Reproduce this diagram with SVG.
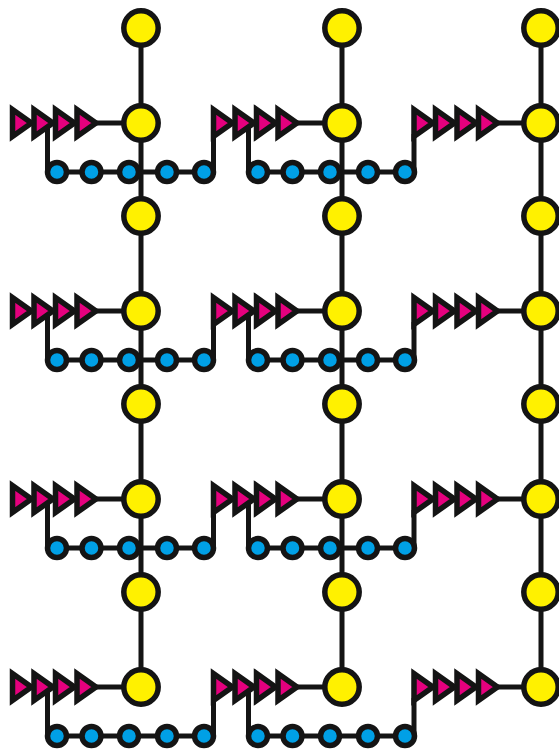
<svg xmlns="http://www.w3.org/2000/svg" xmlns:xlink="http://www.w3.org/1999/xlink" width="559" height="752" viewBox="0 0 559 752">
<style>
.e{fill:none;stroke:#141414;stroke-width:5;stroke-linejoin:miter}
.y{fill:#fff100;stroke:#141414;stroke-width:5.5}
.b{fill:#00a0e6;stroke:#141414;stroke-width:5.5}
.t{fill:#e5007e;stroke:#141414;stroke-width:5.5;stroke-linejoin:miter;stroke-miterlimit:10}
</style>
<defs>
<polygon id="tri" points="0,-13.5 0,13.5 19,0"/>
</defs>
<rect width="559" height="752" fill="#ffffff"/>
<g id="connectors">
<path class="e" d="M141 28V687M342 28V687M541 28V687"/>
<path class="e" d="M96 123H124M297 123H325M497 123H524M96 311H124M297 311H325M497 311H524M96 499H124M297 499H325M497 499H524M96 687H124M297 687H325M497 687H524"/>
<path class="e" d="M47.5 123V172H213.5V134"/>
<path class="e" d="M248.5 123V172H414V134"/>
<path class="e" d="M47.5 311V360H213.5V322"/>
<path class="e" d="M248.5 311V360H414V322"/>
<path class="e" d="M47.5 499V548H213.5V510"/>
<path class="e" d="M248.5 499V548H414V510"/>
<path class="e" d="M47.5 687V736H213.5V698"/>
<path class="e" d="M248.5 687V736H414V698"/>
</g>
<g id="y-0-0-u"><circle class="y" cx="141" cy="28" r="17.2"/></g>
<g id="y-0-1-u"><circle class="y" cx="342" cy="28" r="17.2"/></g>
<g id="y-0-2-u"><circle class="y" cx="541" cy="28" r="17.2"/></g>
<g id="y-0-0"><circle class="y" cx="141" cy="123" r="17.2"/></g>
<g id="y-0-1"><circle class="y" cx="342" cy="123" r="17.2"/></g>
<g id="y-0-2"><circle class="y" cx="541" cy="123" r="17.2"/></g>
<g id="t-0-0-1"><use class="t" href="#tri" x="12.5" y="123"/></g>
<g id="t-0-0-2"><use class="t" href="#tri" x="34" y="123"/></g>
<g id="t-0-0-3"><use class="t" href="#tri" x="55.5" y="123"/></g>
<g id="t-0-0-4"><use class="t" href="#tri" x="77" y="123"/></g>
<g id="t-0-1-1"><use class="t" href="#tri" x="213.5" y="123"/></g>
<g id="t-0-1-2"><use class="t" href="#tri" x="235" y="123"/></g>
<g id="t-0-1-3"><use class="t" href="#tri" x="256.5" y="123"/></g>
<g id="t-0-1-4"><use class="t" href="#tri" x="278" y="123"/></g>
<g id="t-0-2-1"><use class="t" href="#tri" x="414" y="123"/></g>
<g id="t-0-2-2"><use class="t" href="#tri" x="435.5" y="123"/></g>
<g id="t-0-2-3"><use class="t" href="#tri" x="457" y="123"/></g>
<g id="t-0-2-4"><use class="t" href="#tri" x="478.5" y="123"/></g>
<g id="b-0-0-1"><circle class="b" cx="57" cy="172" r="9.5"/></g>
<g id="b-0-0-2"><circle class="b" cx="91.5" cy="172" r="9.5"/></g>
<g id="b-0-0-3"><circle class="b" cx="129" cy="172" r="9.5"/></g>
<g id="b-0-0-4"><circle class="b" cx="167" cy="172" r="9.5"/></g>
<g id="b-0-0-5"><circle class="b" cx="204" cy="172" r="9.5"/></g>
<g id="b-0-1-1"><circle class="b" cx="258" cy="172" r="9.5"/></g>
<g id="b-0-1-2"><circle class="b" cx="292.5" cy="172" r="9.5"/></g>
<g id="b-0-1-3"><circle class="b" cx="330" cy="172" r="9.5"/></g>
<g id="b-0-1-4"><circle class="b" cx="368" cy="172" r="9.5"/></g>
<g id="b-0-1-5"><circle class="b" cx="405" cy="172" r="9.5"/></g>
<g id="y-1-0-u"><circle class="y" cx="141" cy="216" r="17.2"/></g>
<g id="y-1-1-u"><circle class="y" cx="342" cy="216" r="17.2"/></g>
<g id="y-1-2-u"><circle class="y" cx="541" cy="216" r="17.2"/></g>
<g id="y-1-0"><circle class="y" cx="141" cy="311" r="17.2"/></g>
<g id="y-1-1"><circle class="y" cx="342" cy="311" r="17.2"/></g>
<g id="y-1-2"><circle class="y" cx="541" cy="311" r="17.2"/></g>
<g id="t-1-0-1"><use class="t" href="#tri" x="12.5" y="311"/></g>
<g id="t-1-0-2"><use class="t" href="#tri" x="34" y="311"/></g>
<g id="t-1-0-3"><use class="t" href="#tri" x="55.5" y="311"/></g>
<g id="t-1-0-4"><use class="t" href="#tri" x="77" y="311"/></g>
<g id="t-1-1-1"><use class="t" href="#tri" x="213.5" y="311"/></g>
<g id="t-1-1-2"><use class="t" href="#tri" x="235" y="311"/></g>
<g id="t-1-1-3"><use class="t" href="#tri" x="256.5" y="311"/></g>
<g id="t-1-1-4"><use class="t" href="#tri" x="278" y="311"/></g>
<g id="t-1-2-1"><use class="t" href="#tri" x="414" y="311"/></g>
<g id="t-1-2-2"><use class="t" href="#tri" x="435.5" y="311"/></g>
<g id="t-1-2-3"><use class="t" href="#tri" x="457" y="311"/></g>
<g id="t-1-2-4"><use class="t" href="#tri" x="478.5" y="311"/></g>
<g id="b-1-0-1"><circle class="b" cx="57" cy="360" r="9.5"/></g>
<g id="b-1-0-2"><circle class="b" cx="91.5" cy="360" r="9.5"/></g>
<g id="b-1-0-3"><circle class="b" cx="129" cy="360" r="9.5"/></g>
<g id="b-1-0-4"><circle class="b" cx="167" cy="360" r="9.5"/></g>
<g id="b-1-0-5"><circle class="b" cx="204" cy="360" r="9.5"/></g>
<g id="b-1-1-1"><circle class="b" cx="258" cy="360" r="9.5"/></g>
<g id="b-1-1-2"><circle class="b" cx="292.5" cy="360" r="9.5"/></g>
<g id="b-1-1-3"><circle class="b" cx="330" cy="360" r="9.5"/></g>
<g id="b-1-1-4"><circle class="b" cx="368" cy="360" r="9.5"/></g>
<g id="b-1-1-5"><circle class="b" cx="405" cy="360" r="9.5"/></g>
<g id="y-2-0-u"><circle class="y" cx="141" cy="404" r="17.2"/></g>
<g id="y-2-1-u"><circle class="y" cx="342" cy="404" r="17.2"/></g>
<g id="y-2-2-u"><circle class="y" cx="541" cy="404" r="17.2"/></g>
<g id="y-2-0"><circle class="y" cx="141" cy="499" r="17.2"/></g>
<g id="y-2-1"><circle class="y" cx="342" cy="499" r="17.2"/></g>
<g id="y-2-2"><circle class="y" cx="541" cy="499" r="17.2"/></g>
<g id="t-2-0-1"><use class="t" href="#tri" x="12.5" y="499"/></g>
<g id="t-2-0-2"><use class="t" href="#tri" x="34" y="499"/></g>
<g id="t-2-0-3"><use class="t" href="#tri" x="55.5" y="499"/></g>
<g id="t-2-0-4"><use class="t" href="#tri" x="77" y="499"/></g>
<g id="t-2-1-1"><use class="t" href="#tri" x="213.5" y="499"/></g>
<g id="t-2-1-2"><use class="t" href="#tri" x="235" y="499"/></g>
<g id="t-2-1-3"><use class="t" href="#tri" x="256.5" y="499"/></g>
<g id="t-2-1-4"><use class="t" href="#tri" x="278" y="499"/></g>
<g id="t-2-2-1"><use class="t" href="#tri" x="414" y="499"/></g>
<g id="t-2-2-2"><use class="t" href="#tri" x="435.5" y="499"/></g>
<g id="t-2-2-3"><use class="t" href="#tri" x="457" y="499"/></g>
<g id="t-2-2-4"><use class="t" href="#tri" x="478.5" y="499"/></g>
<g id="b-2-0-1"><circle class="b" cx="57" cy="548" r="9.5"/></g>
<g id="b-2-0-2"><circle class="b" cx="91.5" cy="548" r="9.5"/></g>
<g id="b-2-0-3"><circle class="b" cx="129" cy="548" r="9.5"/></g>
<g id="b-2-0-4"><circle class="b" cx="167" cy="548" r="9.5"/></g>
<g id="b-2-0-5"><circle class="b" cx="204" cy="548" r="9.5"/></g>
<g id="b-2-1-1"><circle class="b" cx="258" cy="548" r="9.5"/></g>
<g id="b-2-1-2"><circle class="b" cx="292.5" cy="548" r="9.5"/></g>
<g id="b-2-1-3"><circle class="b" cx="330" cy="548" r="9.5"/></g>
<g id="b-2-1-4"><circle class="b" cx="368" cy="548" r="9.5"/></g>
<g id="b-2-1-5"><circle class="b" cx="405" cy="548" r="9.5"/></g>
<g id="y-3-0-u"><circle class="y" cx="141" cy="592" r="17.2"/></g>
<g id="y-3-1-u"><circle class="y" cx="342" cy="592" r="17.2"/></g>
<g id="y-3-2-u"><circle class="y" cx="541" cy="592" r="17.2"/></g>
<g id="y-3-0"><circle class="y" cx="141" cy="687" r="17.2"/></g>
<g id="y-3-1"><circle class="y" cx="342" cy="687" r="17.2"/></g>
<g id="y-3-2"><circle class="y" cx="541" cy="687" r="17.2"/></g>
<g id="t-3-0-1"><use class="t" href="#tri" x="12.5" y="687"/></g>
<g id="t-3-0-2"><use class="t" href="#tri" x="34" y="687"/></g>
<g id="t-3-0-3"><use class="t" href="#tri" x="55.5" y="687"/></g>
<g id="t-3-0-4"><use class="t" href="#tri" x="77" y="687"/></g>
<g id="t-3-1-1"><use class="t" href="#tri" x="213.5" y="687"/></g>
<g id="t-3-1-2"><use class="t" href="#tri" x="235" y="687"/></g>
<g id="t-3-1-3"><use class="t" href="#tri" x="256.5" y="687"/></g>
<g id="t-3-1-4"><use class="t" href="#tri" x="278" y="687"/></g>
<g id="t-3-2-1"><use class="t" href="#tri" x="414" y="687"/></g>
<g id="t-3-2-2"><use class="t" href="#tri" x="435.5" y="687"/></g>
<g id="t-3-2-3"><use class="t" href="#tri" x="457" y="687"/></g>
<g id="t-3-2-4"><use class="t" href="#tri" x="478.5" y="687"/></g>
<g id="b-3-0-1"><circle class="b" cx="57" cy="736" r="9.5"/></g>
<g id="b-3-0-2"><circle class="b" cx="91.5" cy="736" r="9.5"/></g>
<g id="b-3-0-3"><circle class="b" cx="129" cy="736" r="9.5"/></g>
<g id="b-3-0-4"><circle class="b" cx="167" cy="736" r="9.5"/></g>
<g id="b-3-0-5"><circle class="b" cx="204" cy="736" r="9.5"/></g>
<g id="b-3-1-1"><circle class="b" cx="258" cy="736" r="9.5"/></g>
<g id="b-3-1-2"><circle class="b" cx="292.5" cy="736" r="9.5"/></g>
<g id="b-3-1-3"><circle class="b" cx="330" cy="736" r="9.5"/></g>
<g id="b-3-1-4"><circle class="b" cx="368" cy="736" r="9.5"/></g>
<g id="b-3-1-5"><circle class="b" cx="405" cy="736" r="9.5"/></g>
</svg>
